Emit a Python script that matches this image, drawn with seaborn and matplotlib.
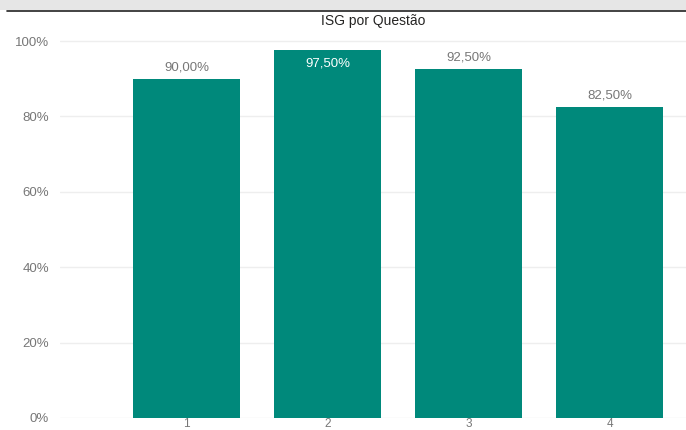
import matplotlib
matplotlib.use("Agg")
import matplotlib.pyplot as plt
import seaborn as sns
import pandas as pd
from matplotlib.ticker import PercentFormatter
from matplotlib.patches import Rectangle
from matplotlib.lines import Line2D

categories = ["1", "2", "3", "4"]
values = [0.90, 0.975, 0.925, 0.825]
labels = ["90,00%", "97,50%", "92,50%", "82,50%"]
inside = [False, True, False, False]

sns.set_theme(style="white")
plt.rcParams['font.family'] = ['Liberation Sans', 'DejaVu Sans']

W, H = 686, 430
fig = plt.figure(figsize=(W / 100, H / 100), dpi=100)
fig.patch.set_facecolor("white")
ax = fig.add_axes([60 / W, (H - 418) / H, (686 - 60) / W, (418 - 38) / H])

df = pd.DataFrame({"q": categories, "v": values})
sns.barplot(data=df, x="q", y="v", color="#00897B", saturation=1, width=0.76, ax=ax, edgecolor="none")

ax.set_ylim(0, 1.008)
ax.set_xlim(-0.897, 3.54)
ax.set_yticks([0, 0.2, 0.4, 0.6, 0.8, 1.0])
ax.yaxis.set_major_formatter(PercentFormatter(1.0, decimals=0))
ax.grid(axis="y", color="#eeeeee", linewidth=1)
ax.set_axisbelow(True)
for s in ax.spines.values():
    s.set_visible(False)
ax.set_xlabel("")
ax.set_ylabel("")
ax.tick_params(axis="both", length=0, labelsize=9.5, colors="#777777")
ax.tick_params(axis="y", pad=8)
ax.tick_params(axis="x", pad=0, labelsize=8.5)

for i, (v, lab, ins) in enumerate(zip(values, labels, inside)):
    if ins:
        ax.text(i, v - 0.018, lab, ha="center", va="top", color="white", fontsize=9.5)
    else:
        ax.text(i, v + 0.015, lab, ha="center", va="bottom", color="#777777", fontsize=9.5)

ax.set_title("ISG por Questão", fontsize=10, color="#252423", pad=9)

# top band decoration
fig.patches.append(Rectangle((0, (H - 10) / H), 1, 10 / H, transform=fig.transFigure,
                             facecolor="#e6e6e6", edgecolor="none", zorder=0))
fig.lines.append(Line2D([7 / W, 1], [(H - 11) / H, (H - 11) / H], transform=fig.transFigure,
                        color="#222222", linewidth=1.2))

fig.savefig("out.png", dpi=100)
